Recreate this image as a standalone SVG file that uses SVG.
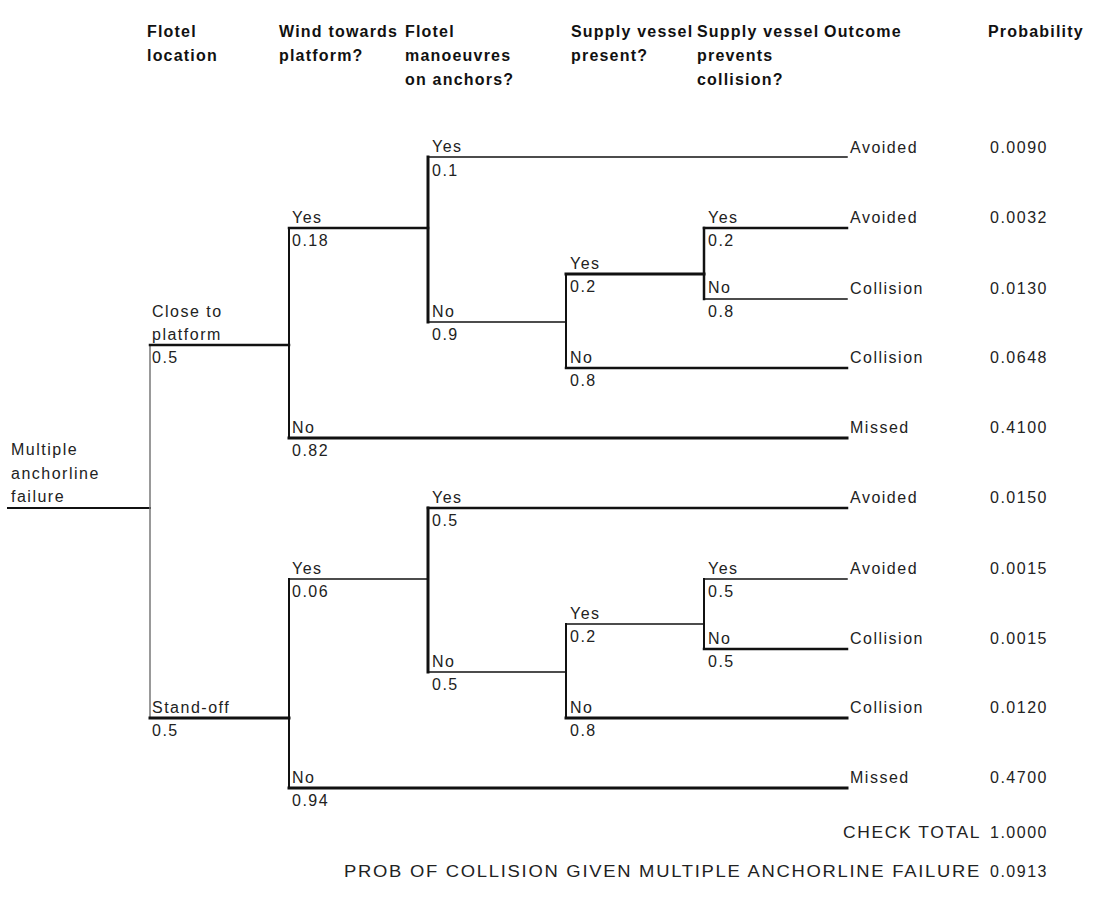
<svg xmlns="http://www.w3.org/2000/svg" width="1095" height="905" viewBox="0 0 1095 905">
<style>
text{font-family:"Liberation Sans",Arial,sans-serif;font-size:16px;letter-spacing:1.5px;fill:#222}
.h{font-weight:bold;fill:#111;letter-spacing:1.2px}
.c line{stroke:#111;stroke-linecap:square;fill:none}
.w1{stroke-width:1.5}
.w2{stroke-width:2}
.w25{stroke-width:2.5}
.w3{stroke-width:3}
.g{stroke:#777 !important}
</style>
<rect width="1095" height="905" fill="#fff"/>
<g id="headers">
<text class="h" x="147" y="37">Flotel</text>
<text class="h" x="147" y="61">location</text>
<text class="h" x="279" y="37">Wind towards</text>
<text class="h" x="279" y="61">platform?</text>
<text class="h" x="405" y="37">Flotel</text>
<text class="h" x="405" y="61">manoeuvres</text>
<text class="h" x="405" y="85">on anchors?</text>
<text class="h" x="571" y="37">Supply vessel</text>
<text class="h" x="571" y="61">present?</text>
<text class="h" x="697" y="37">Supply vessel</text>
<text class="h" x="697" y="61">prevents</text>
<text class="h" x="697" y="85">collision?</text>
<text class="h" x="824" y="37">Outcome</text>
<text class="h" x="988" y="37">Probability</text>
</g>
<g id="connectors" class="c">
<line class="w2" x1="8" y1="508" x2="150" y2="508"/>
<line class="w1 g" x1="150" y1="345" x2="150" y2="718"/>
<line class="w25" x1="150" y1="345" x2="289" y2="345"/>
<line class="w3" x1="150" y1="718" x2="289" y2="718"/>
<line class="w2" x1="289" y1="228" x2="289" y2="438"/>
<line class="w25" x1="289" y1="228" x2="428" y2="228"/>
<line class="w3" x1="289" y1="438" x2="847" y2="438"/>
<line class="w3" x1="428" y1="157" x2="428" y2="322"/>
<line class="w1" x1="428" y1="157" x2="847" y2="157"/>
<line class="w1" x1="428" y1="322" x2="566" y2="322"/>
<line class="w2" x1="566" y1="274" x2="566" y2="368"/>
<line class="w3" x1="566" y1="274" x2="704" y2="274"/>
<line class="w25" x1="566" y1="368" x2="847" y2="368"/>
<line class="w25" x1="704" y1="228" x2="704" y2="299"/>
<line class="w25" x1="704" y1="228" x2="847" y2="228"/>
<line class="w1" x1="704" y1="299" x2="847" y2="299"/>
<line class="w2" x1="289" y1="579" x2="289" y2="788"/>
<line class="w1" x1="289" y1="579" x2="428" y2="579"/>
<line class="w3" x1="289" y1="788" x2="847" y2="788"/>
<line class="w3" x1="428" y1="508" x2="428" y2="672"/>
<line class="w25" x1="428" y1="508" x2="847" y2="508"/>
<line class="w1" x1="428" y1="672" x2="566" y2="672"/>
<line class="w2" x1="566" y1="624" x2="566" y2="718"/>
<line class="w1" x1="566" y1="624" x2="704" y2="624"/>
<line class="w3" x1="566" y1="718" x2="847" y2="718"/>
<line class="w2" x1="704" y1="579" x2="704" y2="649"/>
<line class="w1" x1="704" y1="579" x2="847" y2="579"/>
<line class="w25" x1="704" y1="649" x2="847" y2="649"/>
</g>
<g id="root">
<text x="11" y="455">Multiple</text>
<text x="11" y="479">anchorline</text>
<text x="11" y="502">failure</text>
</g>
<g id="n-close"><text x="152" y="317">Close to</text><text x="152" y="340">platform</text><text x="152" y="363">0.5</text></g>
<g id="n-standoff"><text x="152" y="713">Stand-off</text><text x="152" y="736">0.5</text></g>
<g id="n-close-windyes"><text x="292" y="223">Yes</text><text x="292" y="246">0.18</text></g>
<g id="n-close-windno"><text x="292" y="433">No</text><text x="292" y="456">0.82</text></g>
<g id="n-close-manyes"><text x="432" y="152">Yes</text><text x="432" y="176">0.1</text></g>
<g id="n-close-manno"><text x="432" y="317">No</text><text x="432" y="340">0.9</text></g>
<g id="n-close-supyes"><text x="570" y="269">Yes</text><text x="570" y="292">0.2</text></g>
<g id="n-close-supno"><text x="570" y="363">No</text><text x="570" y="386">0.8</text></g>
<g id="n-close-prevyes"><text x="708" y="223">Yes</text><text x="708" y="246">0.2</text></g>
<g id="n-close-prevno"><text x="708" y="293">No</text><text x="708" y="317">0.8</text></g>
<g id="n-so-windyes"><text x="292" y="574">Yes</text><text x="292" y="597">0.06</text></g>
<g id="n-so-windno"><text x="292" y="783">No</text><text x="292" y="806">0.94</text></g>
<g id="n-so-manyes"><text x="432" y="503">Yes</text><text x="432" y="526">0.5</text></g>
<g id="n-so-manno"><text x="432" y="667">No</text><text x="432" y="690">0.5</text></g>
<g id="n-so-supyes"><text x="570" y="619">Yes</text><text x="570" y="642">0.2</text></g>
<g id="n-so-supno"><text x="570" y="713">No</text><text x="570" y="736">0.8</text></g>
<g id="n-so-prevyes"><text x="708" y="574">Yes</text><text x="708" y="597">0.5</text></g>
<g id="n-so-prevno"><text x="708" y="644">No</text><text x="708" y="667">0.5</text></g>
<g id="outcomes">
<text x="850" y="153">Avoided</text><text x="990" y="153">0.0090</text>
<text x="850" y="223">Avoided</text><text x="990" y="223">0.0032</text>
<text x="850" y="294">Collision</text><text x="990" y="294">0.0130</text>
<text x="850" y="363">Collision</text><text x="990" y="363">0.0648</text>
<text x="850" y="433">Missed</text><text x="990" y="433">0.4100</text>
<text x="850" y="503">Avoided</text><text x="990" y="503">0.0150</text>
<text x="850" y="574">Avoided</text><text x="990" y="574">0.0015</text>
<text x="850" y="644">Collision</text><text x="990" y="644">0.0015</text>
<text x="850" y="713">Collision</text><text x="990" y="713">0.0120</text>
<text x="850" y="783">Missed</text><text x="990" y="783">0.4700</text>
</g>
<g id="totals">
<text x="843" y="838" letter-spacing="0" textLength="138" lengthAdjust="spacingAndGlyphs">CHECK TOTAL</text>
<text x="990" y="838">1.0000</text>
<text x="344" y="877" letter-spacing="0" textLength="637" lengthAdjust="spacingAndGlyphs">PROB OF COLLISION GIVEN MULTIPLE ANCHORLINE FAILURE</text>
<text x="990" y="877">0.0913</text>
</g>
</svg>
